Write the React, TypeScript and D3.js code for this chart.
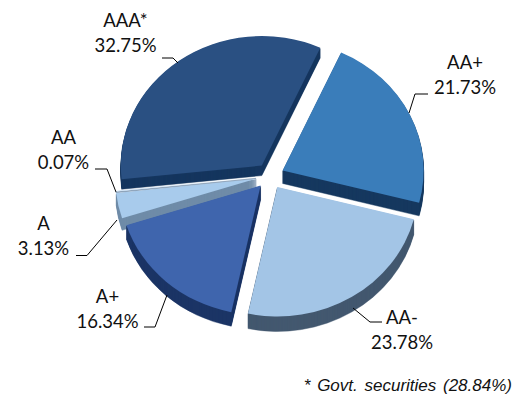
import React from "react";
import * as d3 from "d3";

// Portfolio split by credit rating, clockwise from the AA+ slice.
const ratings = ["AA+", "AA-", "A+", "A", "AA", "AAA*"];
const shares = [21.73, 23.78, 16.34, 3.13, 0.07, 32.75];

const topColors = ["#3a7dba", "#a3c5e6", "#3f65ad", "#a8cbec", "#a8cbec", "#2a5082"];
const wallColors = ["#16385f", "#43586f", "#1c3566", "#6f8ca8", "#6f8ca8", "#16365f"];
const wallDepths = [13, 15, 14, 12, 1, 10];
// Painter's order: indexes into the ratings above.
const drawOrder = [1, 3, 4, 2, 5, 0];

const WIDTH = 526;
const HEIGHT = 396;
const CX = 270;
const CY = 176;
const RX = 141;
const RY = 129.5;
const EXPLODE = 14;
const START = (24.5 * Math.PI) / 180;

const labelLines: Record<string, { x: number; y: number; leader: [number, number][] }> = {
  "AAA*": { x: 125.5, y: 27, leader: [[162, 58], [173, 58], [178, 63]] },
  "AA+": { x: 465, y: 69, leader: [[428, 94], [415, 94], [409, 113]] },
  AA: { x: 63.5, y: 144, leader: [[95, 169], [107, 169], [116, 192]] },
  A: { x: 43.5, y: 230, leader: [[76, 255.5], [87, 255.5], [117, 220]] },
  "A+": { x: 107.5, y: 303, leader: [[144, 327], [155, 327], [167, 295]] },
  "AA-": { x: 402, y: 324, leader: [[353, 308], [370, 322], [382, 322]] },
};

const labelFont = "Lato, 'Open Sans', sans-serif";

export default function App() {
  const pie = d3
    .pie<number>()
    .sort(null)
    .startAngle(START)
    .endAngle(START + 2 * Math.PI);
  const arcs = pie(shares);
  const arc = d3.arc<d3.PieArcDatum<number>>().innerRadius(0).outerRadius(RX);
  const leaderPath = d3.line();

  return (
    <svg
      width={WIDTH}
      height={HEIGHT}
      style={{ position: "fixed", left: 0, top: 0, background: "#fff" }}
    >
      {drawOrder.map((i) => {
        const a = arcs[i];
        const mid = (a.startAngle + a.endAngle) / 2;
        const ox = CX + EXPLODE * Math.sin(mid);
        const oy = CY - (EXPLODE * Math.cos(mid) * RY) / RX;
        const d = arc(a) as string;
        const steps = d3.range(wallDepths[i], 0, -1);
        return (
          <g key={ratings[i]}>
            {steps.map((s) => (
              <path
                key={s}
                d={d}
                fill={wallColors[i]}
                stroke={wallColors[i]}
                strokeWidth={0.5}
                transform={`translate(${ox},${oy + s}) scale(1,${RY / RX})`}
              />
            ))}
            <path d={d} fill={topColors[i]} transform={`translate(${ox},${oy}) scale(1,${RY / RX})`} />
          </g>
        );
      })}

      {ratings.map((r, i) => {
        const l = labelLines[r];
        return (
          <g key={r}>
            <path d={leaderPath(l.leader) as string} fill="none" stroke="#000" strokeWidth={1} />
            <text
              x={l.x}
              y={l.y}
              textAnchor="middle"
              fontFamily={labelFont}
              fontSize={18.5}
              fill="#111"
            >
              <tspan x={l.x}>{r}</tspan>
              <tspan x={l.x} dy={25}>{shares[i].toFixed(2)}%</tspan>
            </text>
          </g>
        );
      })}

      <text
        x={512}
        y={391}
        textAnchor="end"
        fontFamily="'Liberation Sans', Arial, sans-serif"
        fontStyle="italic"
        fontSize={17}
        wordSpacing={2}
        fill="#111"
      >
        * Govt. securities (28.84%)
      </text>
    </svg>
  );
}
